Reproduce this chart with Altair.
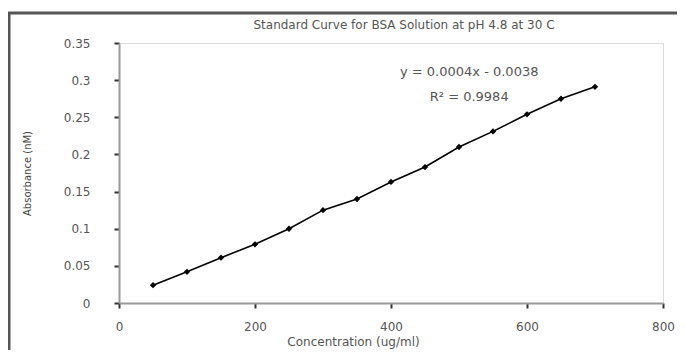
import altair as alt
import pandas as pd

# Data
concentration = [50, 100, 150, 200, 250, 300, 350, 400, 450, 500, 550, 600, 650, 700]
absorbance = [0.024, 0.042, 0.061, 0.079, 0.100, 0.125, 0.140, 0.163, 0.183, 0.210,
              0.231, 0.254, 0.275, 0.291]

ann_text = ["y = 0.0004x - 0.0038", "R\u00b2 = 0.9984"]
ann_x = [515, 515]
ann_y = [0.311, 0.277]

title_text = "Standard Curve for BSA Solution at pH 4.8 at 30 C"

x_ticks = [0, 200, 400, 600, 800]
y_ticks = [0, 0.05, 0.1, 0.15, 0.2, 0.25, 0.3, 0.35]

df = pd.DataFrame({"conc": concentration, "abs": absorbance})
ann = pd.DataFrame({"t": ann_text, "conc": ann_x, "abs": ann_y})
one = pd.DataFrame({"a": [0]})

FONT = "DejaVu Sans"
TXT = "#555555"

x_enc = alt.X(
    "conc:Q",
    scale=alt.Scale(domain=[0, 800], nice=False),
    axis=alt.Axis(
        values=x_ticks, title="Concentration (ug/ml)", grid=False, labelOverlap=False,
        labelFlush=False,
        domainColor="#999999", domainWidth=2, tickColor="#333333", tickSize=5,
        tickWidth=2, labelFont=FONT, labelFontSize=12, labelColor=TXT,
        labelPadding=13, titleFont=FONT, titleFontSize=12, titleFontWeight="normal",
        titleColor=TXT, titleX=234, titleY=38, titleBaseline="middle",
    ),
)
y_enc = alt.Y(
    "abs:Q",
    scale=alt.Scale(domain=[0, 0.35], nice=False),
    axis=alt.Axis(
        values=y_ticks, format="~g", title="Absorbance (nM)", grid=False,
        labelOverlap=False, labelFlush=False,
        domainColor="#999999", domainWidth=2, tickColor="#333333", tickSize=5,
        tickWidth=2, labelFont=FONT, labelFontSize=12, labelColor=TXT,
        labelPadding=24, titleFont=FONT, titleFontSize=10, titleFontWeight="normal",
        titleColor="#444444", titleX=-92, titleY=130, titleAngle=270,
        titleAlign="center", titleBaseline="middle",
    ),
)

line = alt.Chart(df).mark_line(color="black", strokeWidth=1.6).encode(x=x_enc, y=y_enc)
pts = alt.Chart(df).mark_point(
    shape="diamond", filled=True, color="black", size=40, opacity=1
).encode(x=x_enc, y=y_enc)

labels = alt.Chart(ann).mark_text(
    font=FONT, fontSize=13, color=TXT, align="center", baseline="middle"
).encode(x=x_enc, y=y_enc, text="t:N")

title_mark = alt.Chart(one).mark_text(
    font=FONT, fontSize=12, color=TXT, align="center", baseline="middle"
).encode(x=alt.value(285), y=alt.value(-18), text=alt.value(title_text))

frame_left = alt.Chart(one).mark_rule(color="#555555", strokeWidth=3).encode(
    x=alt.value(-110), y=alt.value(-31), y2=alt.value(330)
)
frame_top = alt.Chart(one).mark_rule(color="#555555", strokeWidth=3).encode(
    x=alt.value(-111), x2=alt.value(620), y=alt.value(-30)
)

chart = alt.layer(frame_left, frame_top, line, pts, labels, title_mark).properties(
    width=544,
    height=260,
    padding={"left": 111, "top": 35, "right": 14, "bottom": 47},
    autosize=alt.AutoSizeParams(type="none"),
).configure_view(stroke=None).configure(background="white")

chart.save("out.html", embed_options={"renderer": "svg", "actions": False})
